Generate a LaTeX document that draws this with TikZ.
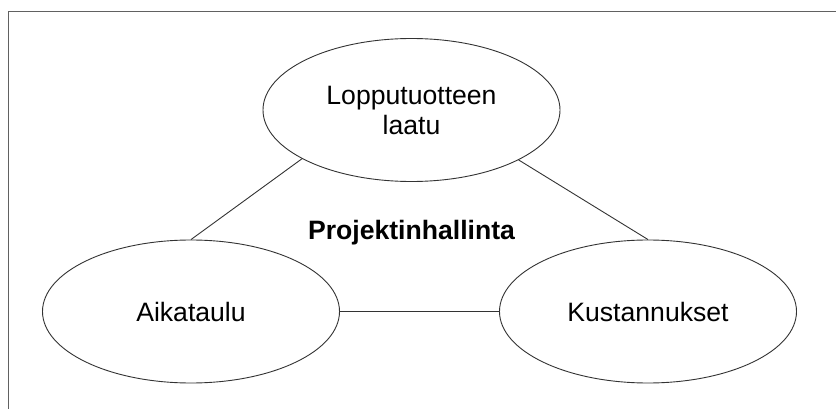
\documentclass[tikz,border=0pt]{standalone}
\usepackage{fontspec}
\setmainfont{Liberation Sans}
\usetikzlibrary{shapes.geometric}
\tikzset{
  oval/.style={ellipse, draw=black!80, line width=0.9pt, fill=white, inner sep=0pt,
    minimum width=297pt, minimum height=143pt, align=center,
    font=\fontsize{26.6}{30}\selectfont},
  link/.style={draw=black!80, line width=0.9pt},
  frame/.style={draw=black!62, line width=1.9pt}
}
\begin{document}
\begin{tikzpicture}[x=1pt, y=-1pt]
\useasboundingbox (0,0) rectangle (836,409);
\clip (0,0) rectangle (836,409);
\draw[frame] (8.5,11.5) rectangle (900,460);
\node[oval] (top) at (411.5,110) {Lopputuotteen\\laatu};
\node[oval] (left) at (191,311.5) {Aikataulu};
\node[oval] (right) at (648,311.5) {Kustannukset};
\draw[link] (top.204.6) -- (left.north);
\draw[link] (top.335.4) -- (right.north);
\draw[link] (left.east) -- (right.west);
\node[anchor=base, inner sep=0pt, font=\fontsize{26.6}{30}\selectfont\bfseries] (title) at (411.5,240) {Projektinhallinta};
\end{tikzpicture}
\end{document}
